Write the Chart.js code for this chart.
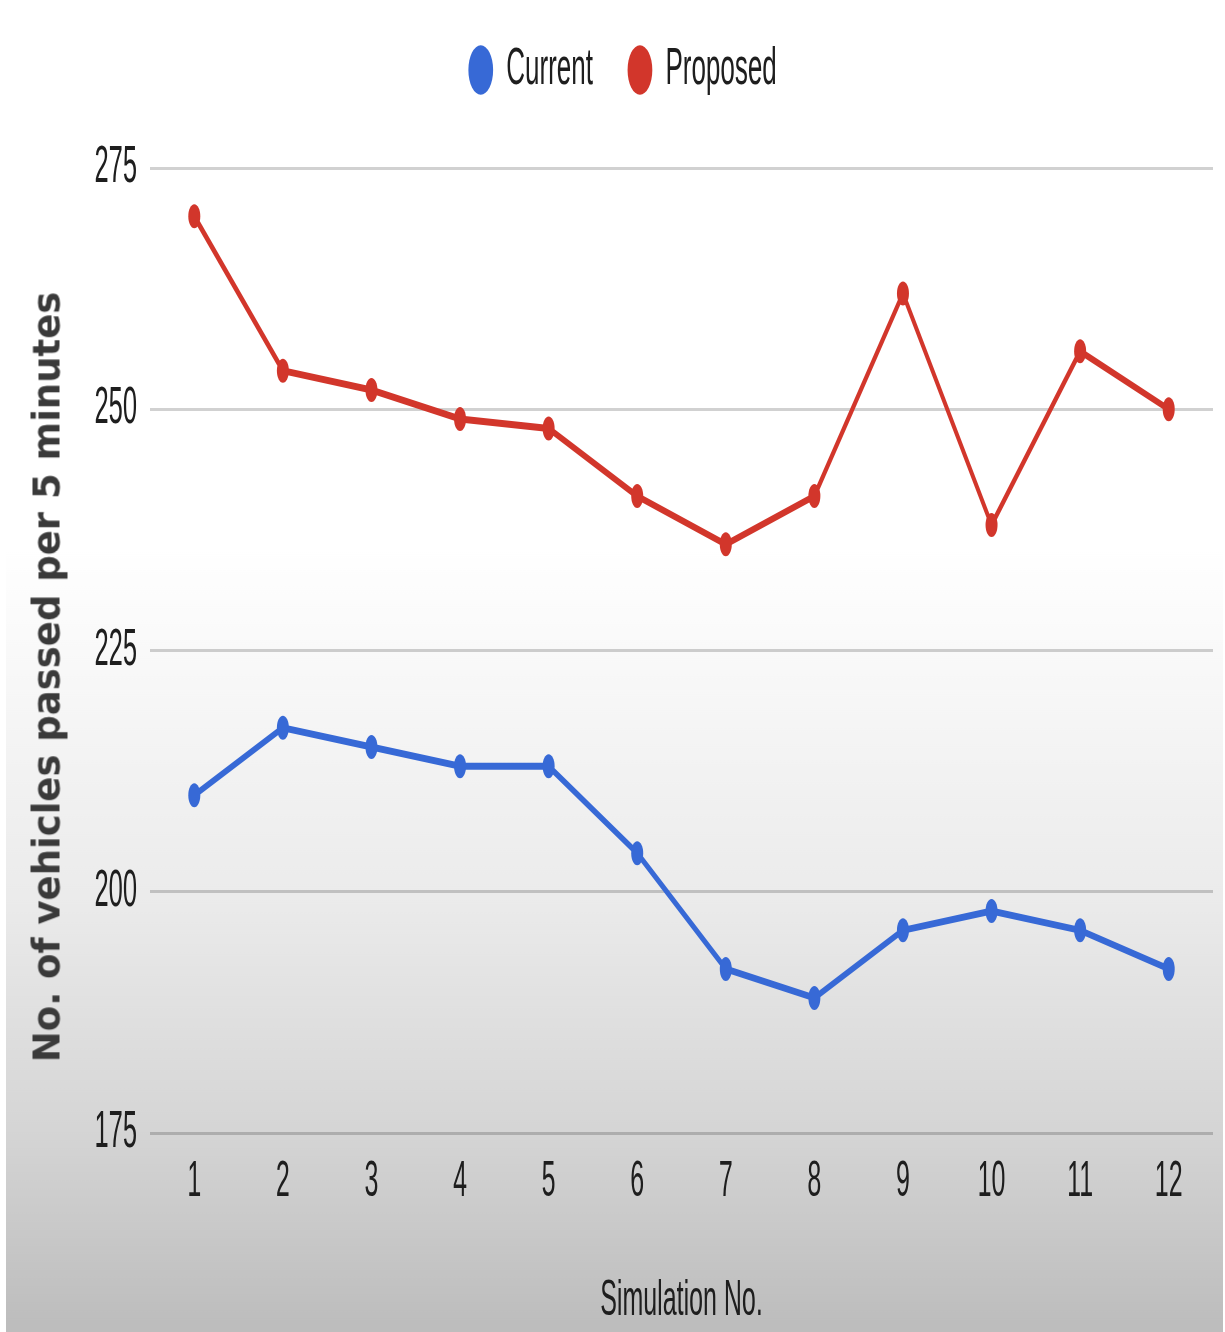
<!DOCTYPE html>
<html>
<head>
<meta charset="utf-8">
<script src="https://cdn.jsdelivr.net/npm/chart.js@4.4.1/dist/chart.umd.min.js"></script>
<style>
  html, body { margin: 0; padding: 0; background: #fff; }
  #wrap { position: relative; width: 1225px; height: 1332px; overflow: hidden; }
  #yTitle {
    position: absolute; left: 47px; top: 677px;
    transform: translate(-50%, -50%) rotate(-90deg);
    white-space: nowrap;
    font-family: "DejaVu Sans", sans-serif; font-weight: bold; font-size: 37px;
    color: #3a3a3a;
  }
</style>
</head>
<body>
<div id="wrap">
  <canvas id="chart" width="2450" height="1332" style="display:block;width:1225px;height:1332px"></canvas>
  <div id="yTitle">No. of vehicles passed per 5 minutes</div>
</div>
<script>
// Values
const simulations = ['1', '2', '3', '4', '5', '6', '7', '8', '9', '10', '11', '12'];
const currentValues = [210, 217, 215, 213, 213, 204, 192, 189, 196, 198, 196, 192];
const proposedValues = [270, 254, 252, 249, 248, 241, 236, 241, 262, 238, 256, 250];
const yTicks = [175, 200, 225, 250, 275];

const blue = '#3769d6';
const red = '#d2362b';

// The picture is squeezed sideways, so the canvas is drawn twice as wide and shown at half width
const backgroundPlugin = {
    id: 'background',
    beforeDraw(chart) {
        const ctx = chart.ctx;
        const h = chart.height;
        const g = ctx.createLinearGradient(0, 0, 0, h);
        g.addColorStop(0, '#ffffff');
        g.addColorStop(550 / h, '#ffffff');
        g.addColorStop(900 / h, '#ebebeb');
        g.addColorStop(1130 / h, '#d5d5d5');
        g.addColorStop(1325 / h, '#bdbdbd');
        g.addColorStop(1, '#bdbdbd');
        ctx.save();
        ctx.fillStyle = '#ffffff';
        ctx.fillRect(0, 0, chart.width, h);
        ctx.fillStyle = g;
        ctx.fillRect(12, 0, chart.width - 16, h);
        ctx.restore();
    }
};

// extra room under the legend
const legendGapPlugin = {
    id: 'legendGap',
    beforeInit(chart) {
        const fit = chart.legend.fit;
        chart.legend.fit = function () {
            fit.bind(chart.legend)();
            this.height += 62;
        };
    }
};

const ctx = document.getElementById('chart').getContext('2d');

const chart = new Chart(ctx, {
    type: 'line',
    data: {
        labels: simulations,
        datasets: [{
            label: 'Current',
            data: currentValues,
            borderColor: blue,
            backgroundColor: blue,
            borderWidth: 7,
            pointRadius: 12,
            pointBorderWidth: 0,
            tension: 0
        }, {
            label: 'Proposed',
            data: proposedValues,
            borderColor: red,
            backgroundColor: red,
            borderWidth: 7,
            pointRadius: 12,
            pointBorderWidth: 0,
            tension: 0
        }]
    },
    options: {
        responsive: false,
        devicePixelRatio: 1,
        animation: false,
        layout: {
            padding: { top: -25, left: 64, right: 24, bottom: 0 }
        },
        plugins: {
            tooltip: { enabled: false },
            legend: {
                position: 'top',
                align: 'center',
                labels: {
                    usePointStyle: true,
                    pointStyle: 'circle',
                    boxWidth: 50,
                    boxHeight: 35,
                    padding: 69,
                    color: '#1e1e1e',
                    font: { family: 'Arial, "Liberation Sans", sans-serif', size: 52 }
                }
            }
        },
        scales: {
            x: {
                offset: true,
                grid: { display: false, drawTicks: false },
                border: { display: false },
                ticks: {
                    padding: 19,
                    color: '#1e1e1e',
                    font: { family: 'Arial, "Liberation Sans", sans-serif', size: 50 }
                },
                title: {
                    display: true,
                    text: 'Simulation No.',
                    color: '#1e1e1e',
                    padding: { top: 40, bottom: 1 },
                    font: { family: 'Arial, "Liberation Sans", sans-serif', size: 50 }
                }
            },
            y: {
                min: yTicks[0],
                max: yTicks[yTicks.length - 1],
                afterBuildTicks(scale) {
                    scale.ticks = yTicks.map(v => ({ value: v }));
                },
                afterFit(scale) {
                    scale.width = 236;
                },
                grid: {
                    color: 'rgba(0, 0, 0, 0.18)',
                    lineWidth: 3,
                    drawTicks: false
                },
                border: { display: false },
                ticks: {
                    padding: 26,
                    color: '#1e1e1e',
                    font: { family: 'Arial, "Liberation Sans", sans-serif', size: 51 }
                }
            }
        }
    },
    plugins: [backgroundPlugin, legendGapPlugin]
});
</script>
</body>
</html>
